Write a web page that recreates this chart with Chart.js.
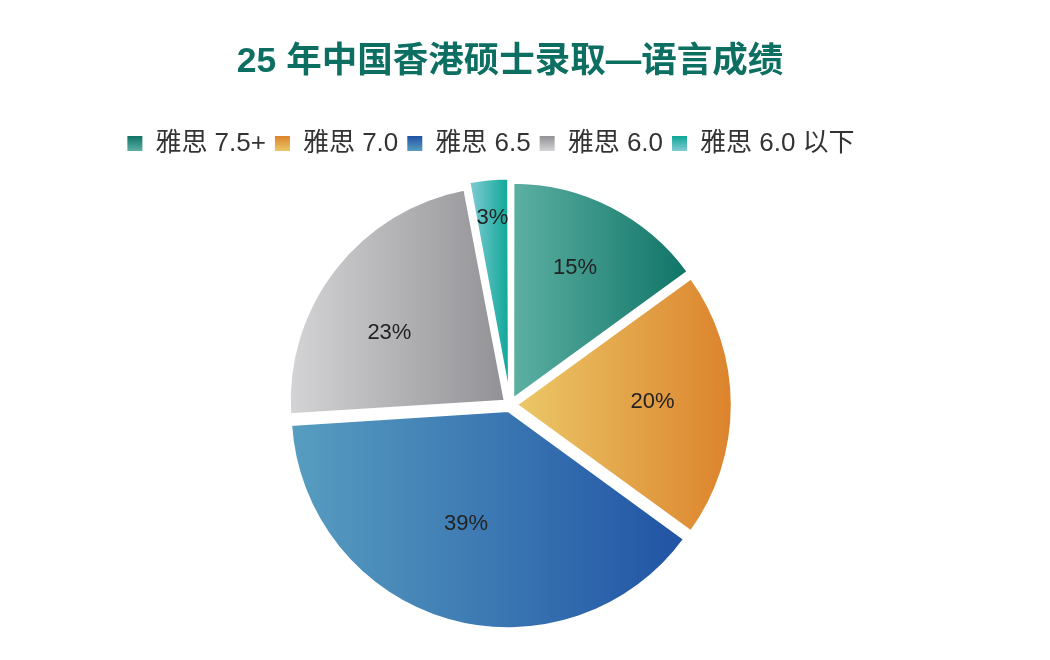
<!DOCTYPE html>
<html>
<head>
<meta charset="utf-8">
<script src="https://cdn.jsdelivr.net/npm/chart.js@4"></script>
<style>
  html, body { margin:0; padding:0; background:#ffffff; }
  #wrap { width:1050px; height:660px; }
</style>
</head>
<body>
<div id="wrap"><canvas id="Chart"></canvas></div>
<script>
const labels = ['雅思 7.5+', '雅思 7.0', '雅思 6.5', '雅思 6.0', '雅思 6.0 以下'];
const percents = [15, 20, 39, 23, 3];

// gradient ends: light (left of slice / bottom of legend box) -> dark
const lightColors = ['#5cb0a2', '#ebc868', '#579dc0', '#d4d4d6', '#82ccd4'];
const darkColors  = ['#0f7467', '#dc832c', '#2154a5', '#929296', '#0ea797'];
// where the % text sits inside each slice (fraction of radius, angle nudge in degrees)
const labelRadius = [0.70, 0.66, 0.59, 0.65, 0.87];
const labelTurn = [-1.5, -1, 4, -7, 0];

const FONT = '"Liberation Sans", "Noto Sans CJK SC", sans-serif';
const LEGEND_SIZE = 26;
const BOX = 15;

function sliceGradient(c) {
    const i = c.dataIndex;
    const chart = c.chart;
    const el = chart.getDatasetMeta(0).data[i];
    if (!el || !el.outerRadius) return darkColors[i];
    const {x, startAngle, endAngle, outerRadius} = el;
    let xs = [x, x + Math.cos(startAngle) * outerRadius, x + Math.cos(endAngle) * outerRadius];
    for (let k = -2; k <= 4; k++) {
        const a = k * Math.PI;
        if (a > startAngle && a < endAngle) xs.push(x + Math.cos(a) * outerRadius);
    }
    const minX = Math.min(...xs), maxX = Math.max(...xs);
    const g = chart.ctx.createLinearGradient(minX, 0, maxX, 0);
    g.addColorStop(0, lightColors[i]);
    g.addColorStop(1, darkColors[i]);
    return g;
}

const pieLabels = {
    id: 'pieLabels',
    afterLayout(chart) {
        // legend sits a little left of the pie in the original
        const lg = chart.legend;
        if (lg) { lg.left -= 19; lg.right -= 19; }
    },
    beforeDraw(chart) {
        const lg = chart.legend;
        if (!lg || !lg.legendItems) return;
        lg.legendItems.forEach((item, i) => {
            const hb = lg.legendHitBoxes[i];
            if (!hb) return;
            const top = hb.top + Math.max((LEGEND_SIZE - BOX) / 2, 0);
            const g = chart.ctx.createLinearGradient(0, top, 0, top + BOX);
            g.addColorStop(0, darkColors[i]);
            g.addColorStop(1, lightColors[i]);
            item.fillStyle = g;
        });
    },
    afterDatasetsDraw(chart) {
        const ctx = chart.ctx;
        const arcs = chart.getDatasetMeta(0).data;
        ctx.save();
        ctx.font = '22px ' + FONT;
        ctx.fillStyle = '#222222';
        ctx.textAlign = 'center';
        ctx.textBaseline = 'middle';
        arcs.forEach((arc, i) => {
            const mid = (arc.startAngle + arc.endAngle) / 2 + labelTurn[i] * Math.PI / 180;
            const r = arc.outerRadius * labelRadius[i];
            ctx.fillText(percents[i] + '%', arc.x + Math.cos(mid) * r, arc.y + Math.sin(mid) * r);
        });
        ctx.restore();
    }
};

const ctx = document.getElementById('Chart');

const chart = new Chart(ctx, {
    type: 'pie',
    data: {
        labels: labels,
        datasets: [{
            data: percents,
            backgroundColor: sliceGradient,
            borderColor: '#ffffff',
            borderWidth: 3,
            borderJoinStyle: 'round',
            offset: 24,
            hoverOffset: 24,
            radius: 216
        }]
    },
    options: {
        responsive: true,
        maintainAspectRatio: false,
        animation: false,
        layout: {
            padding: { left: 0, right: 30, top: 0, bottom: 17 }
        },
        plugins: {
            tooltip: { enabled: false },
            title: {
                display: true,
                text: '25 年中国香港硕士录取—语言成绩',
                color: '#0d6f61',
                font: { family: FONT, size: 35.5, weight: 'bold' },
                padding: { top: 41, bottom: 38 }
            },
            legend: {
                position: 'top',
                labels: {
                    color: '#333333',
                    font: { family: FONT, size: LEGEND_SIZE },
                    boxWidth: BOX,
                    boxHeight: BOX,
                    padding: 9,
                    generateLabels(chart) {
                        return labels.map((text, i) => ({
                            text: text,
                            fillStyle: darkColors[i],
                            strokeStyle: 'rgba(0,0,0,0)',
                            lineWidth: 0,
                            fontColor: '#333333',
                            hidden: false,
                            index: i
                        }));
                    }
                }
            }
        }
    },
    plugins: [pieLabels]
});

chart.update('none');
</script>
</body>
</html>
